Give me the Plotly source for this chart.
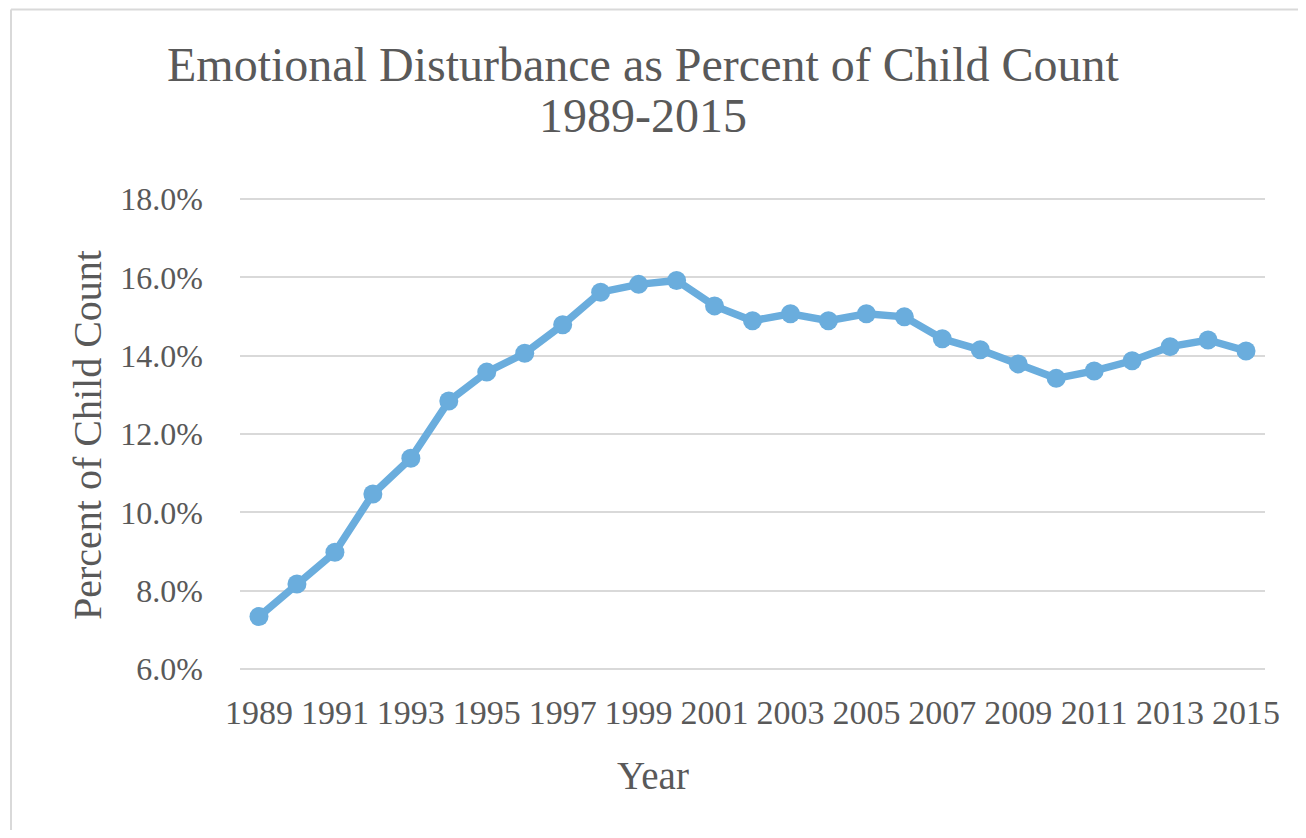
import plotly.graph_objects as go

years = list(range(1989, 2016))
percent_ed = [7.34, 8.17, 8.98, 10.47, 11.38, 12.84, 13.58, 14.06, 14.79, 15.62,
              15.82, 15.92, 15.27, 14.89, 15.07, 14.89, 15.07, 14.99, 14.43, 14.15,
              13.79, 13.42, 13.61, 13.87, 14.23, 14.40, 14.12]
x_ticks = list(range(1989, 2016, 2))
y_ticks = [6, 8, 10, 12, 14, 16, 18]

title_line1 = "Emotional Disturbance as Percent of Child Count"
title_line2 = "1989-2015"
x_title = "Year"
y_title = "Percent of Child Count"

FONT = "Liberation Serif, Times New Roman, serif"
TXT = "#595959"
OFF = 8  # page body margin
W, H = 1290, 822
L, T = 240 - OFF, 197 - OFF
PW, PH = 1025, 474
R, B = W - L - PW, H - T - PH

def px(x):
    return (x - OFF - L) / PW

def py(y):
    return (T + PH - (y - OFF)) / PH

fig = go.Figure()
fig.add_trace(go.Scatter(
    x=years, y=[v / 100 for v in percent_ed], mode="lines+markers",
    line=dict(color="#6aaddd", width=7.5),
    marker=dict(color="#6aaddd", size=19, symbol="circle"),
    showlegend=False, hoverinfo="x+y",
))

fig.update_layout(
    width=W, height=H,
    margin=dict(l=L, r=R, t=T, b=B),
    paper_bgcolor="white", plot_bgcolor="white",
    font=dict(family=FONT, color=TXT),
    xaxis=dict(range=[1988.5, 2015.5], tickvals=x_ticks, ticktext=[str(v) for v in x_ticks],
               showgrid=False, zeroline=False, showline=False,
               tickfont=dict(size=34, color=TXT), ticklabelstandoff=18),
    yaxis=dict(range=[0.0595, 0.1805], tickvals=[v / 100 for v in y_ticks],
               ticktext=[f"{v:.1f}%" for v in y_ticks],
               showgrid=True, gridcolor="#d9d9d9", gridwidth=2, zeroline=False,
               showline=False, tickfont=dict(size=32, color=TXT), ticklabelstandoff=36),
    annotations=[
        dict(text=title_line1, x=px(643), y=py(64), xref="paper", yref="paper",
             showarrow=False, font=dict(size=48, color=TXT, family=FONT),
             xanchor="center", yanchor="middle"),
        dict(text=title_line2, x=px(643), y=py(116), xref="paper", yref="paper",
             showarrow=False, font=dict(size=48, color=TXT, family=FONT),
             xanchor="center", yanchor="middle"),
        dict(text=x_title, x=px(653), y=py(775), xref="paper", yref="paper",
             showarrow=False, font=dict(size=39, color=TXT, family=FONT),
             xanchor="center", yanchor="middle"),
        dict(text=y_title, x=px(87), y=py(435), xref="paper", yref="paper",
             showarrow=False, textangle=-90, font=dict(size=40, color=TXT, family=FONT),
             xanchor="center", yanchor="middle"),
    ],
    shapes=[
        dict(type="line", xref="paper", yref="paper", x0=px(11), x1=px(11),
             y0=py(9.5), y1=py(900), line=dict(color="#d9d9d9", width=2)),
        dict(type="line", xref="paper", yref="paper", x0=px(11), x1=px(1400),
             y0=py(9.5), y1=py(9.5), line=dict(color="#d9d9d9", width=2)),
    ],
)

fig.write_html("out.html")
